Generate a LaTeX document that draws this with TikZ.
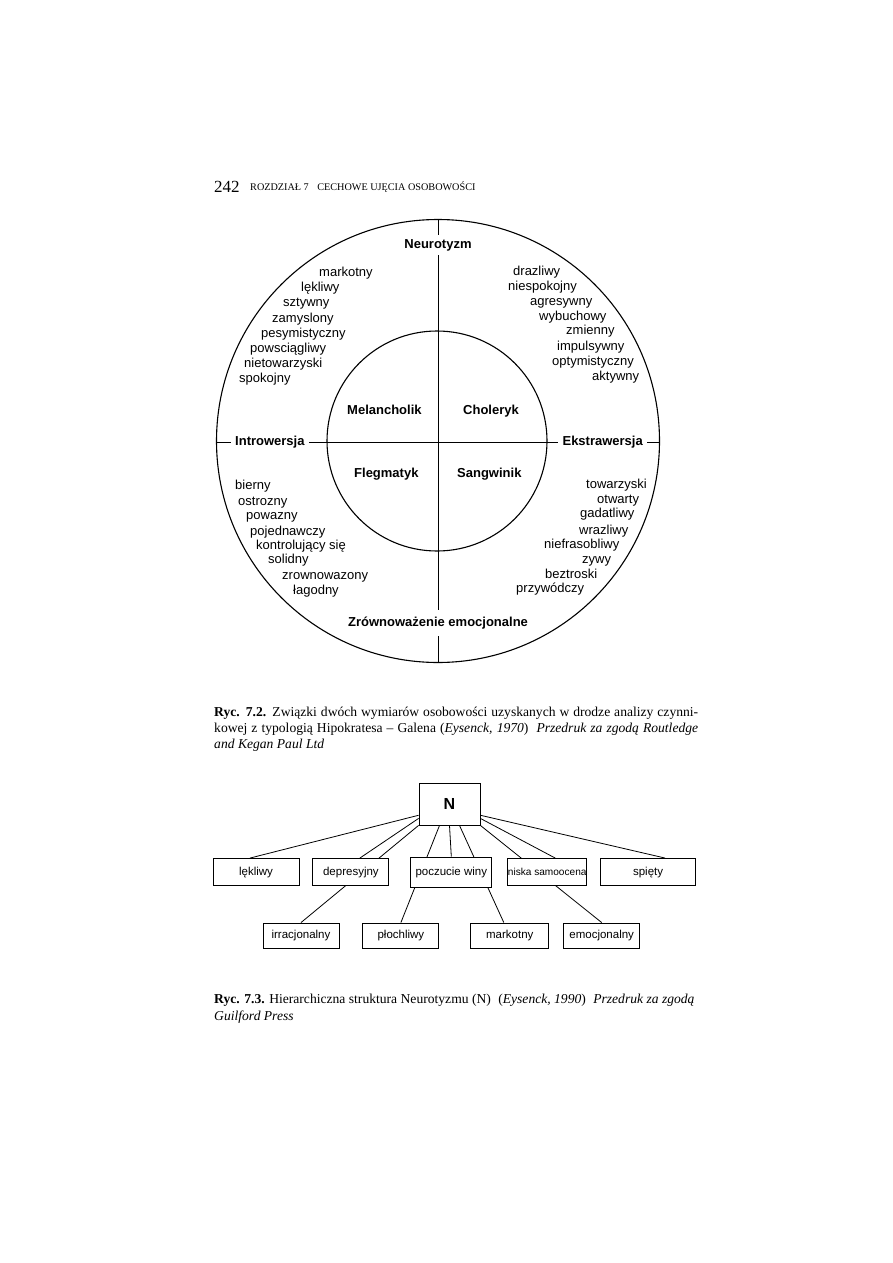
\documentclass[tikz,border=0pt]{standalone}
\usepackage{fontspec}
\setmainfont{Liberation Serif}
\newfontfamily\diagfont{Liberation Sans}
\usetikzlibrary{positioning,backgrounds}

\tikzset{
  trait/.style={anchor=base west, inner sep=0pt, font=\diagfont\fontsize{13}{15}\selectfont},
  temper/.style={anchor=base west, inner sep=0pt, font=\diagfont\bfseries\fontsize{13}{15}\selectfont},
  axislabel/.style={inner xsep=4pt, inner ysep=4pt, text height=9.5pt, text depth=2.5pt, font=\diagfont\bfseries\fontsize{13}{15}\selectfont},
  axis/.style={draw, line width=0.9pt},
  ring/.style={draw, line width=1.1pt},
  factor/.style={draw, fill=white, line width=0.9pt, inner sep=0pt, minimum height=27pt, text height=8.5pt, text depth=2.5pt, font=\diagfont\fontsize{11.5}{13}\selectfont},
  link/.style={draw, line width=0.8pt},
  caption/.style={anchor=base west, inner sep=0pt, font=\fontsize{13.6}{16}\selectfont}
}

\begin{document}
\begin{tikzpicture}[x=1pt, y=-1pt]
    \useasboundingbox (0,0) rectangle (893,1263);

    % Running head
    \node [anchor=base west, inner sep=0pt, font=\fontsize{17}{20}\selectfont] (pageno) at (214,192) {242};
    \node [anchor=base west, inner sep=0pt, font=\fontsize{10.2}{12}\selectfont] (head) at (250,190.5) {ROZDZIAŁ 7\hspace{6pt} CECHOWE UJĘCIA OSOBOWOŚCI};

    % Circles
    \coordinate (c) at (438,441);
    \draw [ring] (c) circle [radius=221.5pt];
    \draw [ring] (437,441) circle [radius=110pt];

    % Axes
    \coordinate (ntop) at (438,219.5);
    \coordinate (nbot) at (438,662.5);
    \coordinate (wleft) at (216.5,442);
    \coordinate (eright) at (659.5,442);
    \node [axislabel] (neuro) at (438,245) {Neurotyzm};
    \node [axislabel, inner ysep=7pt] (zrown) at (438,623) {Zrównoważenie emocjonalne};
    \node [axislabel, anchor=west] (intro) at (231,442) {Introwersja};
    \node [axislabel, anchor=east] (ekstra) at (647,442) {Ekstrawersja};
    \draw [axis] (ntop) -- (neuro.north);
    \draw [axis] (neuro.south) -- (zrown.north);
    \draw [axis] (zrown.south) -- (nbot);
    \draw [axis] (wleft) -- (intro.west);
    \draw [axis] (intro.east) -- (ekstra.west);
    \draw [axis] (ekstra.east) -- (eright);

    % Temperaments
    \node [temper] (melan) at (347,414.5) {Melancholik};
    \node [temper] (chol) at (463,414.5) {Choleryk};
    \node [temper] (flegm) at (354,477) {Flegmatyk};
    \node [temper] (sangw) at (457,477) {Sangwinik};

    % Trait lists
    \foreach \x/\y/\t [count=\i] in {319/272/markotny, 301/287/lękliwy, 283/302/sztywny, 272/318/zamyslony,
        261/333/pesymistyczny, 250/348/powsciągliwy, 244/363/nietowarzyski, 239/378/spokojny}
        \node [trait] (nw\i) at (\x,\y+4) {\t};
    \foreach \x/\y/\t [count=\i] in {513/271/drazliwy, 508/286/niespokojny, 530/301/agresywny, 539/316/wybuchowy,
        566/330/zmienny, 557/346/impulsywny, 552/361/optymistyczny, 592/376/aktywny}
        \node [trait] (ne\i) at (\x,\y+4) {\t};
    \foreach \x/\y/\t [count=\i] in {235/485/bierny, 238/501/ostrozny, 246/515/powazny, 250/531/pojednawczy,
        256/545/kontrolujący się, 268/559/solidny, 282/575/zrownowazony, 293/590/łagodny}
        \node [trait] (sw\i) at (\x,\y+4) {\t};
    \foreach \x/\y/\t [count=\i] in {586/484/towarzyski, 597/499/otwarty, 580/513/gadatliwy, 579/530/wrazliwy,
        544/544/niefrasobliwy, 582/559/zywy, 545/574/beztroski, 516/588/przywódczy}
        \node [trait] (se\i) at (\x,\y+4) {\t};

    % Caption 7.2
    \node [caption] (capa1) at (214,716) {\makebox[484pt][s]{\textbf{Ryc. 7.2.} Związki dwóch wymiarów osobowości uzyskanych w drodze analizy czynni-}};
    \node [caption] (capa2) at (214,732) {\makebox[484pt][s]{kowej z typologią Hipokratesa -- Galena (\textit{Eysenck, 1970})\hspace{4pt} \textit{Przedruk za zgodą Routledge}}};
    \node [caption] (capa3) at (214,748) {\textit{and Kegan Paul Ltd}};

    % Hierarchy of N
    \node [factor, minimum width=61pt, minimum height=42pt, text height=11pt, text depth=0pt, font=\diagfont\bfseries\fontsize{16}{18}\selectfont] (N) at (449.5,804) {N};
    \node [factor, minimum width=86pt] (lek) at (256,872) {lękliwy};
    \node [factor, minimum width=76pt, right=13pt of lek] (dep) {depresyjny};
    \node [factor, minimum width=81pt, minimum height=30pt, right=21pt of dep] (pocz) {poczucie winy};
    \node [factor, minimum width=79pt, right=15pt of pocz, font=\diagfont\fontsize{10.1}{12}\selectfont] (nis) {niska samoocena};
    \node [factor, minimum width=95pt, right=13pt of nis] (spi) {spięty};
    \node [factor, minimum width=76pt, minimum height=25pt] (irr) at (301,935.5) {irracjonalny};
    \node [factor, minimum width=76pt, minimum height=25pt, right=23pt of irr] (ploch) {płochliwy};
    \node [factor, minimum width=78pt, minimum height=25pt, right=31pt of ploch] (mark) {markotny};
    \node [factor, minimum width=76pt, minimum height=25pt, right=14pt of mark] (emo) {emocjonalny};

    \begin{scope}[on background layer]
        \fill [white] (0,0) rectangle (893,1263);
        \draw [link] (N.200) -- ([xshift=-6pt]lek.north);
        \draw [link] (N.205) -- ([xshift=9pt]dep.north);
        \draw [link] (N.south west) -- (irr.north);
        \draw [link] (N.245) -- (ploch.north);
        \draw [link] (N.south) -- (pocz.north);
        \draw [link] (N.295) -- ([xshift=-6pt]mark.north);
        \draw [link] (N.south east) -- (emo.north);
        \draw [link] (N.335) -- ([xshift=8pt]nis.north);
        \draw [link] (N.340) -- ([xshift=17pt]spi.north);
    \end{scope}

    % Caption 7.3
    \node [caption] (capb1) at (214,1003) {\textbf{Ryc. 7.3.} Hierarchiczna struktura Neurotyzmu (N)\hspace{4pt} (\textit{Eysenck, 1990})\hspace{4pt} \textit{Przedruk za zgodą}};
    \node [caption] (capb2) at (214,1020) {\textit{Guilford Press}};
\end{tikzpicture}
\end{document}
